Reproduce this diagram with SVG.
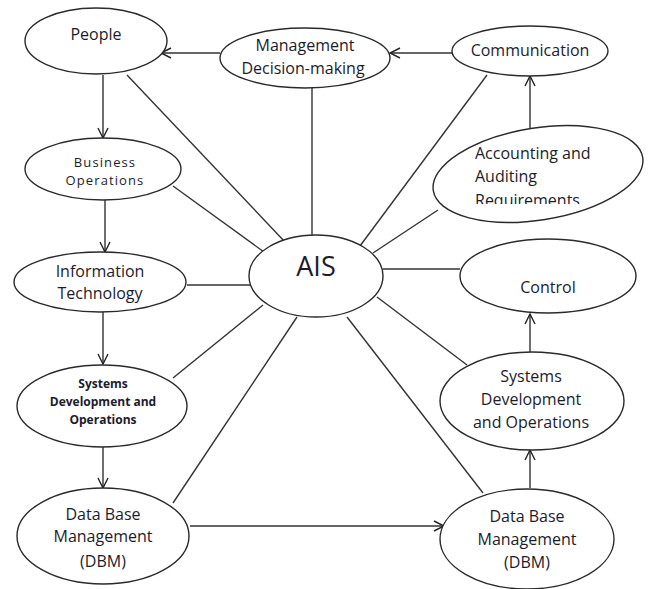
<svg xmlns="http://www.w3.org/2000/svg" width="651" height="589" viewBox="0 0 651 589">
<defs>
<marker id="arr" viewBox="0 0 12 12" refX="11" refY="6" markerWidth="12" markerHeight="12" markerUnits="userSpaceOnUse" orient="auto">
<path d="M1,1 L11,6 L1,11" fill="none" stroke="#222" stroke-width="1.4"/>
</marker>
<clipPath id="accClip"><rect x="420" y="120" width="230" height="84"/></clipPath>
</defs>
<style>
.n{fill:#fff;stroke:#2a2a2a;stroke-width:1.4}
.c{stroke:#333;stroke-width:1.4;fill:none}
.a{marker-end:url(#arr)}
text{font-family:"Open Sans","Noto Sans",sans-serif;fill:#1c1c2a;text-anchor:middle;font-size:16px}
.l{text-anchor:start}
.s{font-size:13px;letter-spacing:1.1px}
.b{font-size:12px;font-weight:bold}
.big{font-size:27px}
</style>
<rect width="651" height="589" fill="#fff"/>
<g id="connectors">
<line class="c" x1="127" y1="75" x2="285" y2="242"/>
<line class="c" x1="173" y1="186" x2="264" y2="252"/>
<line class="c" x1="312" y1="88" x2="312" y2="235"/>
<line class="c" x1="487" y1="75" x2="357" y2="250"/>
<line class="c" x1="438" y1="210" x2="373" y2="253"/>
<line class="c" x1="187" y1="285" x2="250" y2="285"/>
<line class="c" x1="383" y1="269" x2="460" y2="269"/>
<line class="c" x1="263" y1="305" x2="173" y2="378"/>
<line class="c" x1="297" y1="317" x2="173" y2="503"/>
<line class="c" x1="377" y1="297" x2="467" y2="365"/>
<line class="c" x1="347" y1="317" x2="483" y2="493"/>
<line class="c a" x1="220" y1="53" x2="161" y2="53"/>
<line class="c a" x1="452" y1="53" x2="390" y2="53"/>
<line class="c a" x1="530" y1="129" x2="530" y2="76"/>
<line class="c a" x1="103" y1="75" x2="103" y2="138"/>
<line class="c a" x1="105" y1="200" x2="105" y2="252"/>
<line class="c a" x1="103" y1="312" x2="103" y2="364"/>
<line class="c a" x1="103" y1="439" x2="103" y2="488"/>
<line class="c a" x1="190" y1="526" x2="444" y2="526"/>
<line class="c a" x1="530" y1="488" x2="530" y2="450"/>
<line class="c a" x1="530" y1="352" x2="530" y2="314"/>
</g>
<g id="people"><ellipse class="n" cx="96" cy="41" rx="71" ry="33"/><text x="96" y="40">People</text></g>
<g id="management"><ellipse class="n" cx="305" cy="58" rx="85" ry="30"/><text x="305" y="51">Management</text><text x="303" y="74">Decision-making</text></g>
<g id="communication"><ellipse class="n" cx="530" cy="51" rx="78" ry="25"/><text x="530" y="56">Communication</text></g>
<g id="accounting"><ellipse class="n" cx="538" cy="174" rx="106" ry="46" transform="rotate(-9 538 174)"/><g clip-path="url(#accClip)"><text class="l" x="475" y="159">Accounting and</text><text class="l" x="475" y="182">Auditing</text><text class="l" x="475" y="206">Requirements</text></g></g>
<g id="business"><ellipse class="n" cx="103" cy="169" rx="78" ry="31"/><text class="s" x="105" y="167">Business</text><text class="s" x="105" y="185">Operations</text></g>
<g id="ais"><ellipse class="n" cx="316" cy="276" rx="67" ry="41"/><text class="big" x="316" y="276">AIS</text></g>
<g id="infotech"><ellipse class="n" cx="100" cy="282" rx="86" ry="30"/><text x="100" y="277">Information</text><text x="100" y="299">Technology</text></g>
<g id="control"><ellipse class="n" cx="548" cy="276" rx="88" ry="37"/><text x="548" y="293">Control</text></g>
<g id="sysdev-left"><ellipse class="n" cx="102" cy="406" rx="85" ry="41"/><text class="b" x="103" y="388">Systems</text><text class="b" x="103" y="406">Development and</text><text class="b" x="103" y="424">Operations</text></g>
<g id="sysdev-right"><ellipse class="n" cx="532" cy="401" rx="92" ry="49"/><text x="531" y="382">Systems</text><text x="531" y="405">Development</text><text x="531" y="428">and Operations</text></g>
<g id="dbm-left"><ellipse class="n" cx="103" cy="536" rx="86" ry="48"/><text x="103" y="520">Data Base</text><text x="103" y="542">Management</text><text x="103" y="567">(DBM)</text></g>
<g id="dbm-right"><ellipse class="n" cx="527" cy="539" rx="87" ry="50"/><text x="527" y="522">Data Base</text><text x="527" y="545">Management</text><text x="527" y="568">(DBM)</text></g>
</svg>
